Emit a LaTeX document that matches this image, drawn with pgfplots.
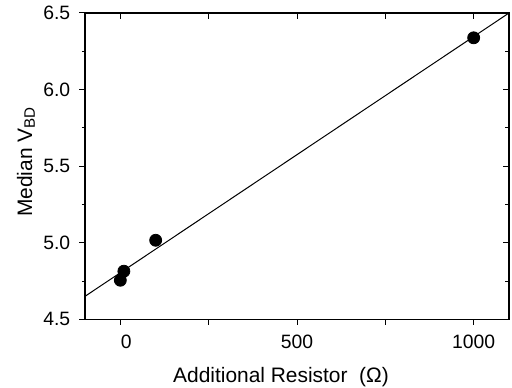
\documentclass[border=0pt]{standalone}
\usepackage{fontspec}
\setmainfont{Liberation Sans}
\usepackage{pgfplots}
\pgfplotsset{compat=1.18}
\begin{document}
\fontsize{9.7}{11.5}\selectfont
\begin{tikzpicture}
\useasboundingbox (-42.5bp,-34.35bp) rectangle (213.5bp,159.65bp);
\pgfplotsset{
  common/.style={
    at={(0,0)}, anchor=south west,
    scale only axis, width=212bp, height=153.15bp,
    xmin=-100, xmax=1100, ymin=4.5, ymax=6.5,
    axis line style={line width=0.6bp},
    major tick length=2.8bp, minor tick length=1.5bp,
    every tick/.style={black, line width=0.5bp},
    /pgf/number format/assume math mode=true,
  }
}
\begin{axis}[common,
  tick align=outside,
  xtick pos=left, ytick pos=left,
  xtick={0,250,500,750,1000},
  xticklabels={\hspace*{6bp}0,,500,,1000},
  ytick={4.5,5.0,5.5,6.0,6.5},
  minor ytick={4.75,5.25,5.75,6.25},
  y tick label style={/pgf/number format/fixed,/pgf/number format/fixed zerofill,/pgf/number format/precision=1, xshift=-1.2bp},
  x tick label style={yshift=-1.8bp},
  xlabel={Additional Resistor\ \ (Ω)},
  ylabel={Median V\raisebox{-0.25ex}{\fontsize{7.6}{9}\selectfont BD}},
  label style={font=\fontsize{10.5}{12.5}\selectfont},
  xlabel style={at={(axis description cs:0.5,0)},anchor=base,yshift=-31.7bp,xshift=-8bp},
  ylabel style={at={(axis description cs:0,0.5)},anchor=center,rotate=0,yshift=29.5bp,xshift=2bp},
]
\addplot[black, line width=0.5bp] coordinates {(-100,4.65) (1100,6.5)};
\addplot[only marks, mark=*, mark size=3bp, black] coordinates {
(0,4.755) (10,4.814) (100,5.016) (1000,6.338)};
\end{axis}
\begin{axis}[common,
  tick align=inside,
  xtick pos=right, ytick pos=right,
  xtick={0,250,500,750,1000},
  ytick={4.5,5.0,5.5,6.0,6.5},
  minor ytick={4.75,5.25,5.75,6.25},
  minor tick length=2.2bp,
  xticklabels={}, yticklabels={},
]
\end{axis}
\end{tikzpicture}
\end{document}
